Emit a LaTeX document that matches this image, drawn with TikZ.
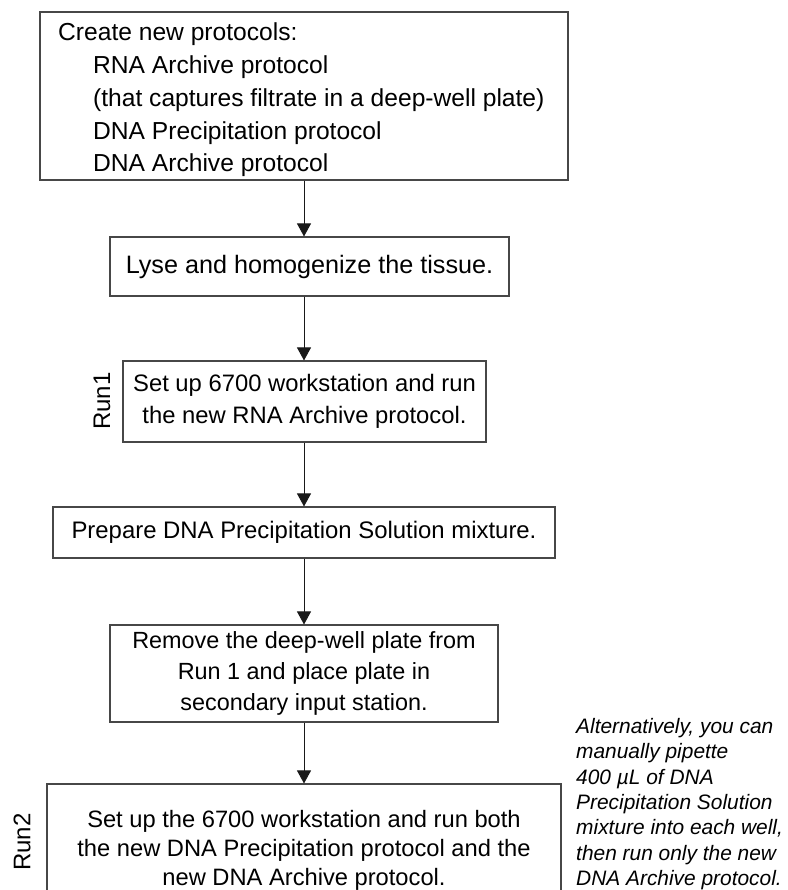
\documentclass[tikz,border=0pt]{standalone}
\usepackage{fontspec}
\setmainfont{Liberation Sans}
\usetikzlibrary{arrows.meta}
\tikzset{
  box/.style={draw=black!72, line width=1.1pt, align=center, inner sep=0pt},
  arr/.style={-{Triangle[length=13pt,width=14pt]}, line width=0.9pt, draw=black!90, fill=black},
  runlbl/.style={rotate=90, inner sep=0pt, font=\fontsize{24}{28}\selectfont},
}
\begin{document}
\begin{tikzpicture}[x=1pt,y=-1pt]
\useasboundingbox (0,0) rectangle (787,890);
\clip (0,0) rectangle (787,890);

\node[box, minimum width=528pt, minimum height=168pt] (b1) at (304,96) {};
\node[anchor=west, align=left, inner sep=0pt,
      font=\fontsize{24.6}{32.75}\selectfont] (b1t) at (58,100)
  {Create new protocols:\\
   \hspace*{35pt}RNA Archive protocol\\
   \hspace*{35pt}(that captures filtrate in a deep-well plate)\\
   \hspace*{35pt}DNA Precipitation protocol\\
   \hspace*{35pt}DNA Archive protocol};

\node[box, minimum width=399pt, minimum height=59pt,
      font=\fontsize{25.2}{30}\selectfont] (b2) at (309.5,266.5)
  {Lyse and homogenize the tissue.};

\node[box, minimum width=363pt, minimum height=81pt,
      font=\fontsize{23.8}{32}\selectfont] (b3) at (304.5,401.5)
  {Set up 6700 workstation and run\\the new RNA Archive protocol.};

\node[box, minimum width=502pt, minimum height=51pt,
      font=\fontsize{23.9}{30}\selectfont] (b4) at (304,532.5)
  {Prepare DNA Precipitation Solution mixture.};

\node[box, minimum width=388pt, minimum height=97pt,
      font=\fontsize{23.4}{31}\selectfont] (b5) at (304,673.5)
  {Remove the deep-well plate from\\Run 1 and place plate in\\secondary input station.};

\node[box, minimum width=514pt, minimum height=132pt,
      font=\fontsize{23.7}{29}\selectfont] (b6) at (304,850)
  {Set up the 6700 workstation and run both\\the new DNA Precipitation protocol and the\\new DNA Archive protocol.};

\node[runlbl] (r1) at (102,401) {Run1};
\node[runlbl] (r2) at (22,842) {Run2};

\node[anchor=north west, align=left, inner sep=0pt,
      font=\fontsize{20.9}{25.4}\selectfont\itshape] (note) at (576,718)
  {Alternatively, you can\\manually pipette\\400 µL of DNA\\Precipitation Solution\\mixture into each well,\\then run only the new\\DNA Archive protocol.};

\draw[arr] (b1.south) -- (b1.south |- b2.north);
\draw[arr] (b1.south |- b2.south) -- (b1.south |- b3.north);
\draw[arr] (b1.south |- b3.south) -- (b1.south |- b4.north);
\draw[arr] (b1.south |- b4.south) -- (b1.south |- b5.north);
\draw[arr] (b1.south |- b5.south) -- (b1.south |- b6.north);
\end{tikzpicture}
\end{document}
